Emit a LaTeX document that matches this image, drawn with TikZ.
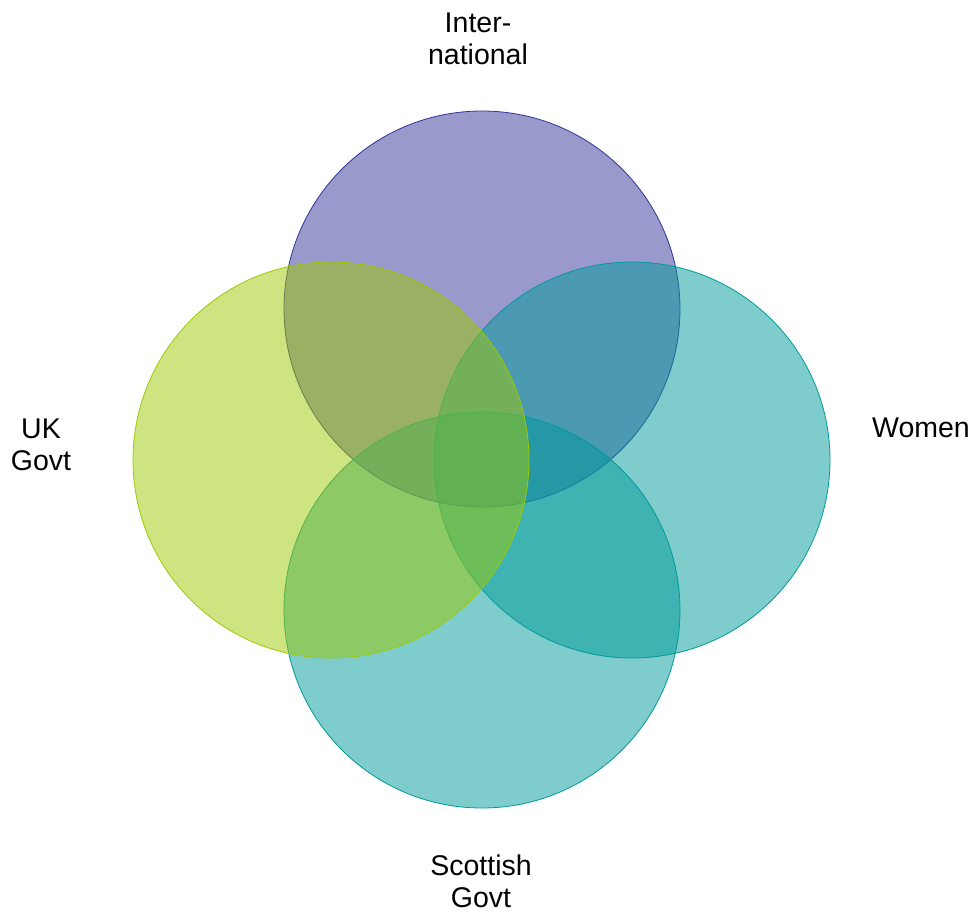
\documentclass[tikz,border=0pt]{standalone}
\usepackage{fontspec}
\setmainfont{Liberation Sans}
\definecolor{cpurple}{RGB}{51,51,153}
\definecolor{cteal}{RGB}{0,153,153}
\definecolor{cgreen}{RGB}{157,201,1}
\begin{document}
\begin{tikzpicture}[x=1pt,y=-1pt,
  setc/.style={circle,minimum size=396pt,inner sep=0pt,line width=0.8pt,fill opacity=0.5},
  lbl/.style={font=\fontsize{28.5}{32}\selectfont,align=center,inner sep=0pt,anchor=base}]
\useasboundingbox (0,0) rectangle (974,911);
\node[setc,draw=cpurple,fill=cpurple] (intl) at (482,309) {};
\node[setc,draw=cteal,fill=cteal] (women) at (632,460) {};
\node[setc,draw=cteal,fill=cteal] (scot) at (482,610) {};
\node[setc,draw=cgreen,fill=cgreen] (uk) at (331,460) {};
\node[lbl] (lintl) at (478,64) {Inter-\\national};
\node[lbl] (luk) at (41,470) {UK\\Govt};
\node[lbl] (lwomen) at (921,437) {Women};
\node[lbl] (lscot) at (481,907) {Scottish\\Govt};
\end{tikzpicture}
\end{document}
